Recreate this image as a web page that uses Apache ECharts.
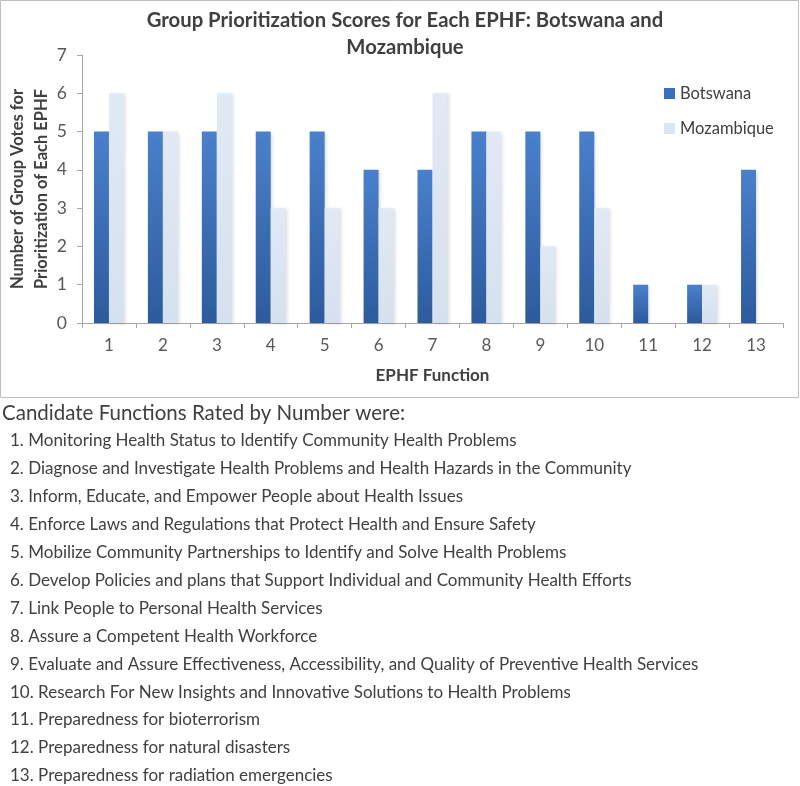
<!DOCTYPE html>
<html>
<head>
<meta charset="utf-8">
<script src="https://cdn.jsdelivr.net/npm/echarts@6/dist/echarts.min.js"></script>
<style>
  html, body { margin: 0; padding: 0; background: #fff; }
  #main { width: 800px; height: 786px; }
</style>
</head>
<body>
<div id="main"></div>
<script>
// data
const categories = ['1', '2', '3', '4', '5', '6', '7', '8', '9', '10', '11', '12', '13'];
const botswana = [5, 5, 5, 5, 5, 4, 4, 5, 5, 5, 1, 1, 4];
const mozambique = [6, 5, 6, 3, 3, 3, 6, 5, 2, 3, 0, 1, 0];
const yTicks = [0, 1, 2, 3, 4, 5, 6, 7];
const functionList = [
  '1. Monitoring Health Status to Identify Community Health Problems',
  '2. Diagnose and Investigate Health Problems and Health Hazards in the Community',
  '3. Inform, Educate, and Empower People about Health Issues',
  '4. Enforce Laws and Regulations that Protect Health and Ensure Safety',
  '5. Mobilize Community Partnerships to Identify and Solve Health Problems',
  '6. Develop Policies and plans that Support Individual and Community Health Efforts',
  '7. Link People to Personal Health Services',
  '8. Assure a Competent Health Workforce',
  '9. Evaluate and Assure Effectiveness, Accessibility, and Quality of Preventive Health Services',
  '10. Research For New Insights and Innovative Solutions to Health Problems',
  '11. Preparedness for bioterrorism',
  '12. Preparedness for natural disasters',
  '13. Preparedness for radiation emergencies'
];

const font = 'Lato, "Open Sans", sans-serif';
const chart = echarts.init(document.getElementById('main'));

// text block under the chart
let listGraphics = [
  {
    type: 'rect',
    shape: { x: 0.5, y: 0.5, width: 798, height: 397 },
    style: { fill: 'none', stroke: '#bfbfbf', lineWidth: 1 },
    z: 0
  },
  {
    type: 'text', left: 2, top: 403,
    style: { text: 'Candidate Functions Rated by Number were:', font: '20.5px ' + font, fill: '#404040' }
  }
];
functionList.forEach((t, i) => {
  listGraphics.push({
    type: 'text', left: 10, top: 432.5 + i * 27.9,
    style: { text: t, font: '17px ' + font, fill: '#404040' }
  });
});

const option = {
  backgroundColor: '#fff',
  animation: false,
  title: {
    text: 'Group Prioritization Scores for Each EPHF: Botswana and\nMozambique',
    left: 400, top: 2, textAlign: 'center',
    textStyle: { fontFamily: font, fontWeight: 'bold', fontSize: 20.3, color: '#404040', lineHeight: 27 }
  },
  legend: {
    orient: 'vertical',
    left: 659, top: 80,
    itemWidth: 11, itemHeight: 11, itemGap: 18,
    icon: 'rect',
    textStyle: { fontFamily: font, fontSize: 16.5, color: '#404040' },
    data: [
      { name: 'Botswana', itemStyle: { color: '#3a6fb9' } },
      { name: 'Mozambique', itemStyle: { color: '#dce6f2' } }
    ]
  },
  grid: { left: 82, right: 17, top: 55, bottom: 463, outerBoundsMode: 'none' },
  xAxis: {
    type: 'category',
    data: categories,
    name: 'EPHF Function',
    nameLocation: 'middle',
    nameGap: 44,
    nameTextStyle: { fontFamily: font, fontWeight: 'bold', fontSize: 17, color: '#404040' },
    axisLine: { lineStyle: { color: '#a6a6a6' } },
    axisTick: { show: true, length: 5, lineStyle: { color: '#a6a6a6' } },
    axisLabel: { fontFamily: font, fontSize: 17, color: '#595959', margin: 14 }
  },
  yAxis: {
    type: 'value',
    min: yTicks[0], max: yTicks[yTicks.length - 1], interval: 1,
    name: 'Number of Group Votes for\nPrioritization of Each EPHF',
    nameLocation: 'middle',
    nameGap: 28,
    nameMoveOverlap: false,
    nameTextStyle: { fontFamily: font, fontWeight: 'bold', fontSize: 16.5, color: '#404040', lineHeight: 24 },
    axisLine: { show: true, lineStyle: { color: '#a6a6a6' } },
    axisTick: { show: true, length: 5, inside: false, lineStyle: { color: '#a6a6a6' } },
    splitLine: { show: false },
    axisLabel: { fontFamily: font, fontSize: 17.5, color: '#595959', margin: 15 }
  },
  series: [
    {
      name: 'Botswana', type: 'bar', data: botswana,
      barWidth: 15, barGap: '0%',
      itemStyle: {
        color: new echarts.graphic.LinearGradient(0, 0, 0, 1, [
          { offset: 0, color: '#4a80cc' },
          { offset: 1, color: '#2d5b9d' }
        ]),
        shadowColor: 'rgba(0,0,0,0.12)', shadowBlur: 3, shadowOffsetX: 2, shadowOffsetY: 1
      }
    },
    {
      name: 'Mozambique', type: 'bar', data: mozambique,
      barWidth: 15,
      itemStyle: {
        color: new echarts.graphic.LinearGradient(0, 0, 0, 1, [
          { offset: 0, color: '#e1e9f4' },
          { offset: 1, color: '#d6e1ef' }
        ]),
        shadowColor: 'rgba(0,0,0,0.12)', shadowBlur: 3, shadowOffsetX: 2, shadowOffsetY: 1
      }
    }
  ],
  graphic: listGraphics
};

chart.setOption(option);
</script>
</body>
</html>
